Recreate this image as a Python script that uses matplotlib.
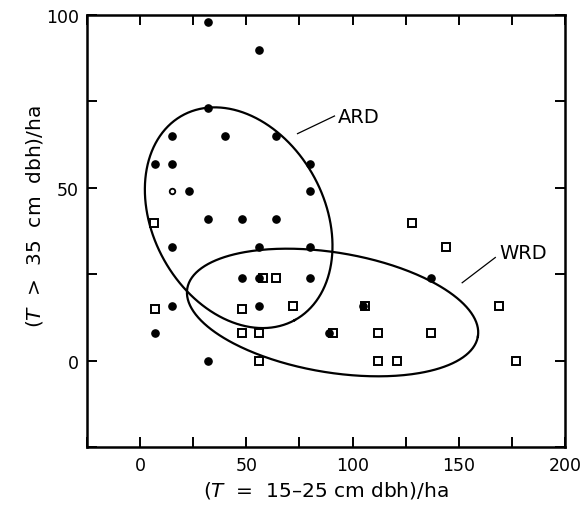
import numpy as np
import matplotlib
matplotlib.use("Agg")
import matplotlib.pyplot as plt
from matplotlib.ticker import MultipleLocator

plt.rcParams['font.family'] = ['DejaVu Sans']
plt.rcParams['mathtext.fontset'] = 'dejavusans'

# ARD plots (filled dots): small trees/ha, large trees/ha
ard_x = [32, 56, 32, 15, 40, 64, 7, 15, 80, 23, 80, 32, 48, 64, 15, 56, 80,
         48, 56, 80, 137, 15, 56, 105, 7, 89, 32]
ard_y = [98, 90, 73, 65, 65, 65, 57, 57, 57, 49, 49, 41, 41, 41, 33, 33, 33,
         24, 24, 24, 24, 16, 16, 16, 8, 8, 0]
# ARD plot drawn as a small open circle
ard_ring_x = [15]
ard_ring_y = [49]

# WRD plots (open squares)
wrd_x = [6.5, 7, 48, 72, 106, 58, 64, 48, 56, 91, 112, 137, 56, 112, 121,
         128, 144, 169, 177]
wrd_y = [40, 15, 15, 16, 16, 24, 24, 8, 8, 8, 8, 8, 0, 0, 0,
         40, 33, 16, 0]

# Ellipses: centre and two conjugate semi-axis vectors (data units)
ard_center = (46.4, 41.4)
ard_vec_a = (26.4, -29.6)
ard_vec_b = (35.4, 11.9)
wrd_center = (90.6, 14.0)
wrd_vec_a = (68.4, -6.92)
wrd_vec_b = (4.59, 17.1)

x_ticks = [0, 50, 100, 150, 200]
y_ticks = [0, 50, 100]

fig = plt.figure(figsize=(5.85, 5.06), dpi=100)
ax = fig.add_axes([0.1487, 0.1138, 0.8171, 0.8546])

t = np.linspace(0, 2 * np.pi, 400)
for c, va, vb in [(ard_center, ard_vec_a, ard_vec_b),
                  (wrd_center, wrd_vec_a, wrd_vec_b)]:
    ex = c[0] + va[0] * np.cos(t) + vb[0] * np.sin(t)
    ey = c[1] + va[1] * np.cos(t) + vb[1] * np.sin(t)
    ax.plot(ex, ey, color='black', lw=1.6, zorder=2)

ax.plot(wrd_x, wrd_y, linestyle='none', marker='s', markersize=5.2,
        markerfacecolor='white', markeredgecolor='black', markeredgewidth=1.4,
        zorder=3)
ax.plot(ard_x, ard_y, linestyle='none', marker='o', markersize=5.2,
        markerfacecolor='black', markeredgecolor='black', zorder=4)
ax.plot(ard_ring_x, ard_ring_y, linestyle='none', marker='o', markersize=4,
        markerfacecolor='white', markeredgecolor='black', markeredgewidth=1.3,
        zorder=4)

# labels with leader lines
ax.plot([74.1, 91.5], [65.7, 70.8], color='black', lw=0.9)
ax.text(93.3, 70.6, 'ARD', fontsize=14, va='center', ha='left')
ax.plot([151.6, 167.2], [22.6, 29.9], color='black', lw=0.9)
ax.text(169.3, 31.4, 'WRD', fontsize=14, va='center', ha='left')

ax.set_xlim(-25, 200)
ax.set_ylim(-25, 100)
ax.set_xticks(x_ticks)
ax.set_yticks(y_ticks)
ax.xaxis.set_minor_locator(MultipleLocator(25))
ax.yaxis.set_minor_locator(MultipleLocator(25))
ax.tick_params(which='both', direction='in', top=True, right=True,
               length=7, width=1.4, labelsize=12.5, pad=6)
for s in ax.spines.values():
    s.set_linewidth(1.8)

ax.set_xlabel('($T$  =  15\u201325 cm dbh)/ha', fontsize=14.5, labelpad=4)
ax.set_ylabel('($T$  >  35  cm  dbh)/ha', fontsize=14.5)
ax.yaxis.set_label_coords(-0.088, 0.535)

fig.savefig('out.png', dpi=100)
